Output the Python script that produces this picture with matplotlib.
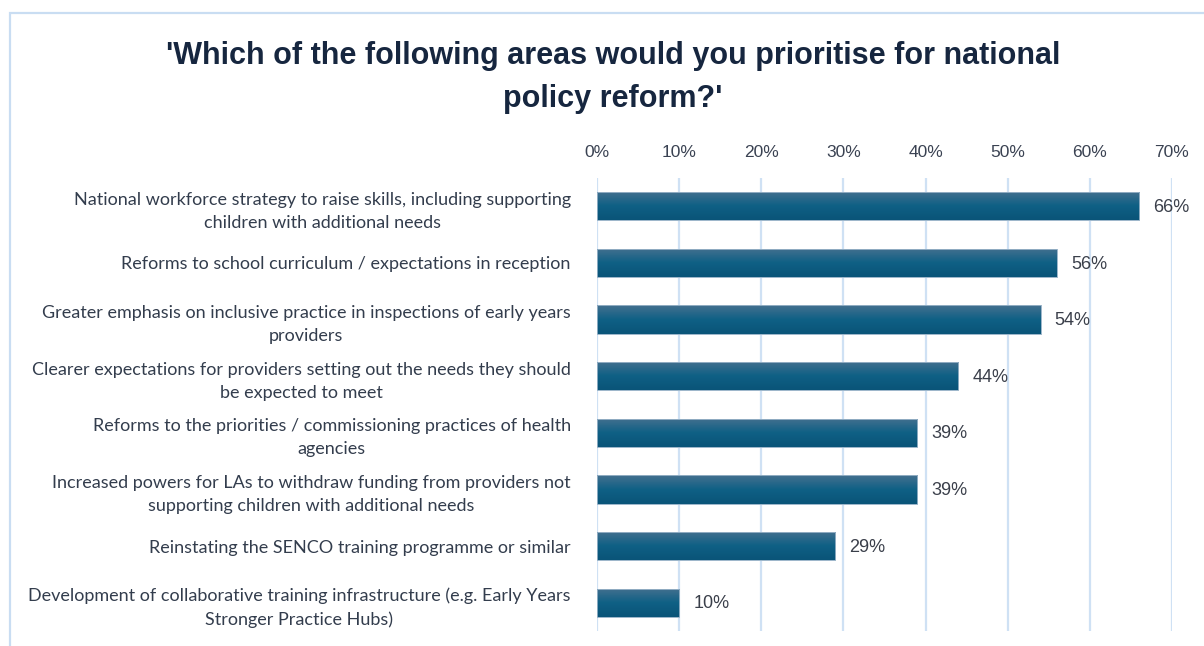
import numpy as np
import matplotlib
matplotlib.use("Agg")
import matplotlib.pyplot as plt
from matplotlib.patches import Rectangle
from matplotlib.ticker import MultipleLocator, FuncFormatter

# survey answers, top to bottom
areas = [
    "National workforce strategy to raise skills, including supporting\nchildren with additional needs",
    "Reforms to school curriculum / expectations in reception",
    "Greater emphasis on inclusive practice in inspections of early years\nproviders",
    "Clearer expectations for providers setting out the needs they should\nbe expected to meet",
    "Reforms to the priorities / commissioning practices of health\nagencies",
    "Increased powers for LAs to withdraw funding from providers not\nsupporting children with additional needs",
    "Reinstating the SENCO training programme or similar",
    "Development of collaborative training infrastructure (e.g. Early Years\nStronger Practice Hubs)",
]
share = [66, 56, 54, 44, 39, 39, 29, 10]

title = "'Which of the following areas would you prioritise for national\npolicy reform?'"

fig = plt.figure(figsize=(12.04, 6.46), dpi=100)
ax = fig.add_axes([0.4959, 0.0232, 0.4775, 0.7013])

y = np.arange(len(areas))
bars = ax.barh(y, share, height=0.5, color="#1d5f83", edgecolor="#9fb8cc",
               linewidth=0.6, zorder=2)

# vertical gradient inside each bar
grad = np.linspace(0, 1, 64).reshape(-1, 1)
cmap = matplotlib.colors.LinearSegmentedColormap.from_list(
    "bar", ["#44708f", "#0f6085", "#0a5478"])
for b in bars:
    x0, y0 = b.get_x(), b.get_y()
    w, h = b.get_width(), b.get_height()
    im = ax.imshow(grad, cmap=cmap, aspect="auto", extent=(x0, x0 + w, y0 + h, y0),
                   zorder=3, interpolation="bilinear")
    im.set_clip_path(b)
    ax.add_patch(Rectangle((x0, y0), w, h, fill=False, edgecolor="#9fb8cc",
                           linewidth=0.6, zorder=4))

for yi, v in zip(y, share):
    ax.text(v + 1.7, yi + 0.02, f"{v}%", va="center", ha="left", fontsize=13,
            color="#3a3f4a", family="Liberation Sans", zorder=5)

ax.set_xlim(0, 70)
ax.set_ylim(len(areas) - 0.5, -0.5)
ax.xaxis.set_major_locator(MultipleLocator(10))
ax.xaxis.set_major_formatter(FuncFormatter(lambda v, p: f"{v:.0f}%"))
ax.xaxis.tick_top()
ax.tick_params(axis="x", length=0, pad=13, labelsize=12.5, labelcolor="#3a4252")
for lab in ax.get_xticklabels():
    lab.set_family("Liberation Sans")
ax.tick_params(axis="y", length=0, pad=19)
ax.set_yticks(y)
ax.set_yticklabels(areas, fontsize=13, color="#333d4d", family="Lato",
                   multialignment="center", linespacing=1.55)
ax.grid(axis="x", color="#cfe1f4", linewidth=1.6, zorder=0)
for s in ax.spines.values():
    s.set_visible(False)
ax.set_axisbelow(True)

fig.text(0.509, 0.880, title, ha="center", va="center", fontsize=22,
         fontweight="bold", family="Liberation Sans", color="#16263f",
         linespacing=1.6)

# thin border around the chart area
fig.add_artist(Rectangle((10 / 1204, -0.1), 1.2, 1 - 13 / 646 + 0.1,
                         transform=fig.transFigure, fill=False,
                         edgecolor="#c9ddf2", linewidth=1.6))

fig.savefig("out.png", dpi=100)
